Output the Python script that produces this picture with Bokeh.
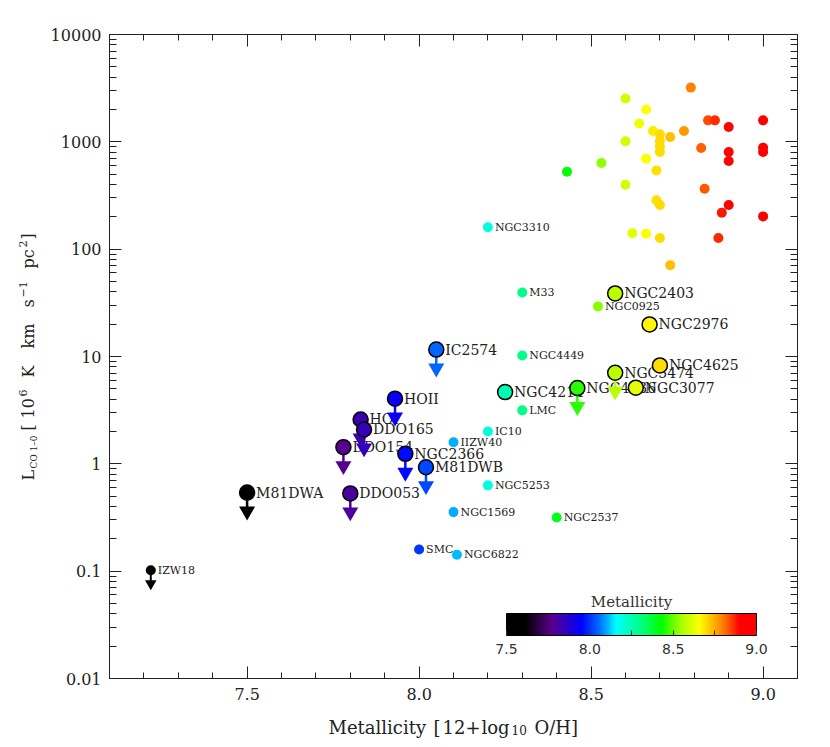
import numpy as np
from bokeh.plotting import figure
from bokeh.layouts import column, row
from bokeh.models import (ColumnDataSource, LinearColorMapper, ColorBar, FixedTicker,
                          LinearAxis, LogAxis, CustomJSTickFormatter, PrintfTickFormatter, Label)
from bokeh.core.properties import value
from bokeh.embed import file_html
from bokeh.resources import INLINE

# ---------------- data ----------------
# unlabeled galaxies (upper-right cloud)
cluster_z = [8.79, 8.60, 8.66, 8.64, 8.68, 8.70, 8.70, 8.70, 8.70, 8.73, 8.77, 8.84, 8.86, 8.90, 9.00,
             8.60, 8.82, 8.90, 8.90, 9.00, 9.00, 8.66, 8.69, 8.53, 8.43, 8.60, 8.83, 8.69, 8.70, 8.90,
             8.88, 9.00, 8.62, 8.66, 8.70, 8.87, 8.73]
cluster_L = [3200, 2530, 2000, 1480, 1260, 1175, 1018, 908, 803, 1110, 1260, 1585, 1585, 1375, 1585,
             1012, 875, 803, 662, 883, 803, 697, 542, 634, 527, 399, 366, 285, 258, 258,
             219, 202, 141, 139, 127, 127, 71]

# labeled literature galaxies (small symbols)
small_names = ["NGC3310", "M33", "NGC0925", "NGC4449", "LMC", "IC10", "IIZW40", "NGC5253",
               "NGC1569", "NGC2537", "SMC", "NGC6822", "IZW18"]
small_z = [8.20, 8.30, 8.52, 8.30, 8.30, 8.20, 8.10, 8.20, 8.10, 8.40, 8.00, 8.11, 7.22]
small_L = [160, 39.5, 29.3, 10.2, 3.15, 2.0, 1.59, 0.63, 0.355, 0.316, 0.159, 0.142, 0.102]
small_limit = [False, False, False, False, False, False, False, False, False, False, False, False, True]

# labeled survey galaxies (large outlined symbols)
big_names = ["NGC2403", "NGC2976", "NGC4625", "NGC3077", "NGC5474", "NGC4236", "NGC4214", "IC2574",
             "HOII", "HOI", "DDO165", "DDO154", "NGC2366", "M81DWB", "DDO053", "M81DWA"]
big_z = [8.57, 8.67, 8.70, 8.63, 8.57, 8.46, 8.25, 8.05, 7.93, 7.83, 7.84, 7.78, 7.96, 8.02, 7.80, 7.50]
big_L = [38.7, 19.9, 8.26, 5.12, 7.06, 5.08, 4.66, 11.6, 4.05, 2.59, 2.09, 1.43, 1.24, 0.93, 0.53, 0.54]
big_limit = [False, False, False, False, True, True, False, True, True, True, True, True, True, True, True, True]

x_ticks = [7.5, 8.0, 8.5, 9.0]
y_ticks = [0.01, 0.1, 1, 10, 100, 1000, 10000]
y_tick_labels = ["0.01", "0.1", "1", "10", "100", "1000", "10000"]
cb_ticks = [7.5, 8.0, 8.5, 9.0]

# ---------------- colour map (black-purple-blue-cyan-green-yellow-red) ----------------
anchors = [(0.00, (0, 0, 0)), (0.075, (0, 0, 0)), (0.18, (90, 0, 140)), (0.30, (0, 0, 255)),
           (0.37, (0, 110, 255)), (0.44, (0, 255, 255)), (0.53, (0, 255, 140)), (0.62, (0, 255, 0)),
           (0.70, (170, 255, 0)), (0.775, (255, 255, 0)), (0.86, (255, 135, 0)), (0.935, (255, 0, 0)),
           (1.00, (255, 0, 0))]
ts = np.linspace(0, 1, 256)
at = [a[0] for a in anchors]
palette = []
for t in ts:
    rgb = [int(round(np.interp(t, at, [a[1][k] for a in anchors]))) for k in range(3)]
    palette.append("#%02x%02x%02x" % tuple(rgb))

ZLOW, ZHIGH = 7.5, 9.0
mapper = LinearColorMapper(palette=palette, low=ZLOW, high=ZHIGH, low_color="#000000", high_color="#ff0000")
cmap = {"field": "z", "transform": mapper}

# ---------------- main figure ----------------
FW, FH = 688, 644
YSTRIP_W, XSTRIP_H = 40, 31
BL, BT, BR, BB = 109 - YSTRIP_W, 34, 25, 30
XR = (7.1, 9.1)
YR = (0.01, 10000)
p = figure(frame_width=FW, frame_height=FH, x_range=XR, y_range=YR, y_axis_type="log",
           output_backend="svg", toolbar_location=None,
           min_border_left=BL, min_border_right=BR, min_border_top=BT, min_border_bottom=BB)
p.background_fill_color = "white"
p.border_fill_color = "white"
p.outline_line_color = "#222222"
p.xgrid.visible = False
p.ygrid.visible = False

decade_px = FH / (np.log10(YR[1]) - np.log10(YR[0]))


def shift(vals, px):
    return [v * 10 ** (-px / decade_px) for v in vals]


x_minor = [round(v, 2) for v in np.arange(7.1, 9.1001, 0.1)]
y_minor = [m * 10.0 ** e for e in range(-2, 4) for m in range(2, 10)]

bottom_ax = p.below[0]
left_ax = p.left[0]
bottom_ax.ticker = FixedTicker(ticks=x_ticks, minor_ticks=x_minor)
left_ax.ticker = FixedTicker(ticks=y_ticks, minor_ticks=y_minor)
bottom_ax.formatter = PrintfTickFormatter(format="%.1f")
left_ax.formatter = CustomJSTickFormatter(code="return tick >= 1 ? tick.toFixed(0) : String(tick);")
left_ax.major_label_overrides = {v: s for v, s in zip(y_ticks, y_tick_labels)}

top_ax = LinearAxis(ticker=FixedTicker(ticks=x_ticks, minor_ticks=x_minor),
                    formatter=CustomJSTickFormatter(code="return '';"))
right_ax = LogAxis(ticker=FixedTicker(ticks=y_ticks, minor_ticks=y_minor),
                   formatter=CustomJSTickFormatter(code="return '';"))
p.add_layout(top_ax, "above")
p.add_layout(right_ax, "right")

for ax in [bottom_ax, left_ax, top_ax, right_ax]:
    ax.major_tick_in = 12
    ax.major_tick_out = 0
    ax.minor_tick_in = 6
    ax.minor_tick_out = 0
    ax.axis_line_color = "#222222"
    ax.major_tick_line_color = "#222222"
    ax.minor_tick_line_color = "#222222"
    ax.major_label_text_font = "DejaVu Serif"
    ax.major_label_text_font_size = "16px"
    ax.major_label_text_color = "#222222"
left_ax.minor_tick_in = 7
right_ax.minor_tick_in = 7
bottom_ax.major_label_standoff = 9
left_ax.major_label_standoff = 8

# ---------------- sources ----------------
src_cl = ColumnDataSource(dict(z=cluster_z, L=cluster_L))
src_s = ColumnDataSource(dict(z=small_z, L=small_L, name=small_names))
src_b = ColumnDataSource(dict(z=big_z, L=big_L, name=big_names))

sl_z = [z for z, f in zip(small_z, small_limit) if f]
sl_L = [v for v, f in zip(small_L, small_limit) if f]
bl_z = [z for z, f in zip(big_z, big_limit) if f]
bl_L = [v for v, f in zip(big_L, big_limit) if f]
src_sl = ColumnDataSource(dict(z=sl_z, L=sl_L, L1=shift(sl_L, 11), Lt=shift(sl_L, 13.3)))
src_bl = ColumnDataSource(dict(z=bl_z, L=bl_L, L1=shift(bl_L, 15), Lt=shift(bl_L, 18.6)))

# labels first (symbols are drawn over them, as in the original)
p.text(x="z", y="L", text="name", source=src_s, x_offset=7, text_baseline="middle",
       text_font=value("DejaVu Serif"), text_font_size="11px", text_color="#222222")
p.text(x="z", y="L", text="name", source=src_b, x_offset=9, text_baseline="middle",
       text_font=value("DejaVu Serif"), text_font_size="14px", text_color="#222222")

# cloud of unlabeled galaxies
p.scatter(x="z", y="L", source=src_cl, size=10, fill_color=cmap, line_color=None)

# upper-limit arrows
p.segment(x0="z", y0="L", x1="z", y1="L1", source=src_sl, line_color=cmap, line_width=2)
p.scatter(x="z", y="Lt", source=src_sl, marker="inverted_triangle", size=11.5,
          fill_color=cmap, line_color=None)
p.segment(x0="z", y0="L", x1="z", y1="L1", source=src_bl, line_color=cmap, line_width=2.5)
p.scatter(x="z", y="Lt", source=src_bl, marker="inverted_triangle", size=16,
          fill_color=cmap, line_color=None)

# symbols
p.scatter(x="z", y="L", source=src_s, size=10, fill_color=cmap, line_color=None)
p.scatter(x="z", y="L", source=src_b, size=15, fill_color=cmap, line_color="black", line_width=1.5)

# ---------------- colour bar ----------------
cb = ColorBar(color_mapper=LinearColorMapper(palette=palette, low=ZLOW, high=ZHIGH),
              orientation="horizontal", width=250, height=22, location=(397, 22), padding=0,
              ticker=FixedTicker(ticks=cb_ticks, minor_ticks=[8.25, 8.75]),
              formatter=PrintfTickFormatter(format="%.1f"),
              major_label_text_font="DejaVu Sans", major_label_text_font_size="14px",
              major_label_text_color="#333333", label_standoff=8,
              major_tick_in=5, major_tick_out=0, major_tick_line_color="#333333",
              minor_tick_in=5, minor_tick_out=0, minor_tick_line_color="#333333",
              bar_line_color="black", background_fill_alpha=0, border_line_color=None)
p.add_layout(cb)
p.add_layout(Label(x=522, y=77, x_units="screen", y_units="screen", text="Metallicity",
                   text_align="center", text_baseline="alphabetic", text_font="DejaVu Serif",
                   text_font_size="15px", text_color="#333333"))

# ---------------- axis-title strips (titles composed of real text pieces) ----------------
PW = BL + FW + BR

# y-title strip: same vertical borders/frame as the main plot, so frames line up
ystrip = figure(frame_width=YSTRIP_W, frame_height=FH, x_range=(0, 1), y_range=(0, 1),
                x_axis_type=None, y_axis_type=None, output_backend="svg", toolbar_location=None,
                min_border_left=0, min_border_right=0, min_border_top=BT, min_border_bottom=BB)
# x-title strip
xstrip = figure(frame_width=YSTRIP_W + PW, frame_height=XSTRIP_H, x_range=(0, 1), y_range=(0, 1),
                x_axis_type=None, y_axis_type=None, output_backend="svg", toolbar_location=None,
                min_border=0)
for f in (ystrip, xstrip):
    f.outline_line_color = None
    f.background_fill_color = "white"
    f.border_fill_color = "white"


def piece(fig, txt, x, y, size, angle=0.0):
    fig.add_layout(Label(x=x, y=y, x_units="screen", y_units="screen", text=txt, angle=angle,
                         text_align="left", text_baseline="alphabetic", text_font="DejaVu Serif",
                         text_font_size=size, text_color="#222222"))


# x title: baseline 12.5 px above strip bottom
XB, XS = 12.5, 9.5
piece(xstrip, "Metallicity", 328, XB, "18px")
piece(xstrip, "[", 433, XB, "18px")
piece(xstrip, "12+", 442, XB, "18px")
piece(xstrip, "log", 481, XB, "18px")
piece(xstrip, "10", 511, XS, "12px")
piece(xstrip, "O/H]", 534, XB, "18px")

# y title: rotated pieces; positions measured from the strip frame bottom (page y = 678)
A = np.pi / 2
YM, YSUB, YSUP = 27.5, 33.5, 22
FRAME_BOTTOM = BT + FH


def yy(s):
    return FRAME_BOTTOM - s


piece(ystrip, "L", YM, yy(480), "16px", A)
piece(ystrip, "CO 1\u20130", YSUB, yy(468), "9px", A)
piece(ystrip, "[", YM, yy(430), "16px", A)
piece(ystrip, "10", YM, yy(418), "16px", A)
piece(ystrip, "6", YSUP, yy(396), "11px", A)
piece(ystrip, "K", YM, yy(377), "16px", A)
piece(ystrip, "km", YM, yy(348), "16px", A)
piece(ystrip, "s", YM, yy(307), "16px", A)
piece(ystrip, "\u22121", YSUP, yy(297), "11px", A)
piece(ystrip, "pc", YM, yy(268), "16px", A)
piece(ystrip, "2", YSUP, yy(247), "11px", A)
piece(ystrip, "]", YM, yy(239), "16px", A)

layout = column(row(ystrip, p, spacing=0), xstrip, spacing=0)
open("out.html", "w").write(file_html(layout, INLINE))
